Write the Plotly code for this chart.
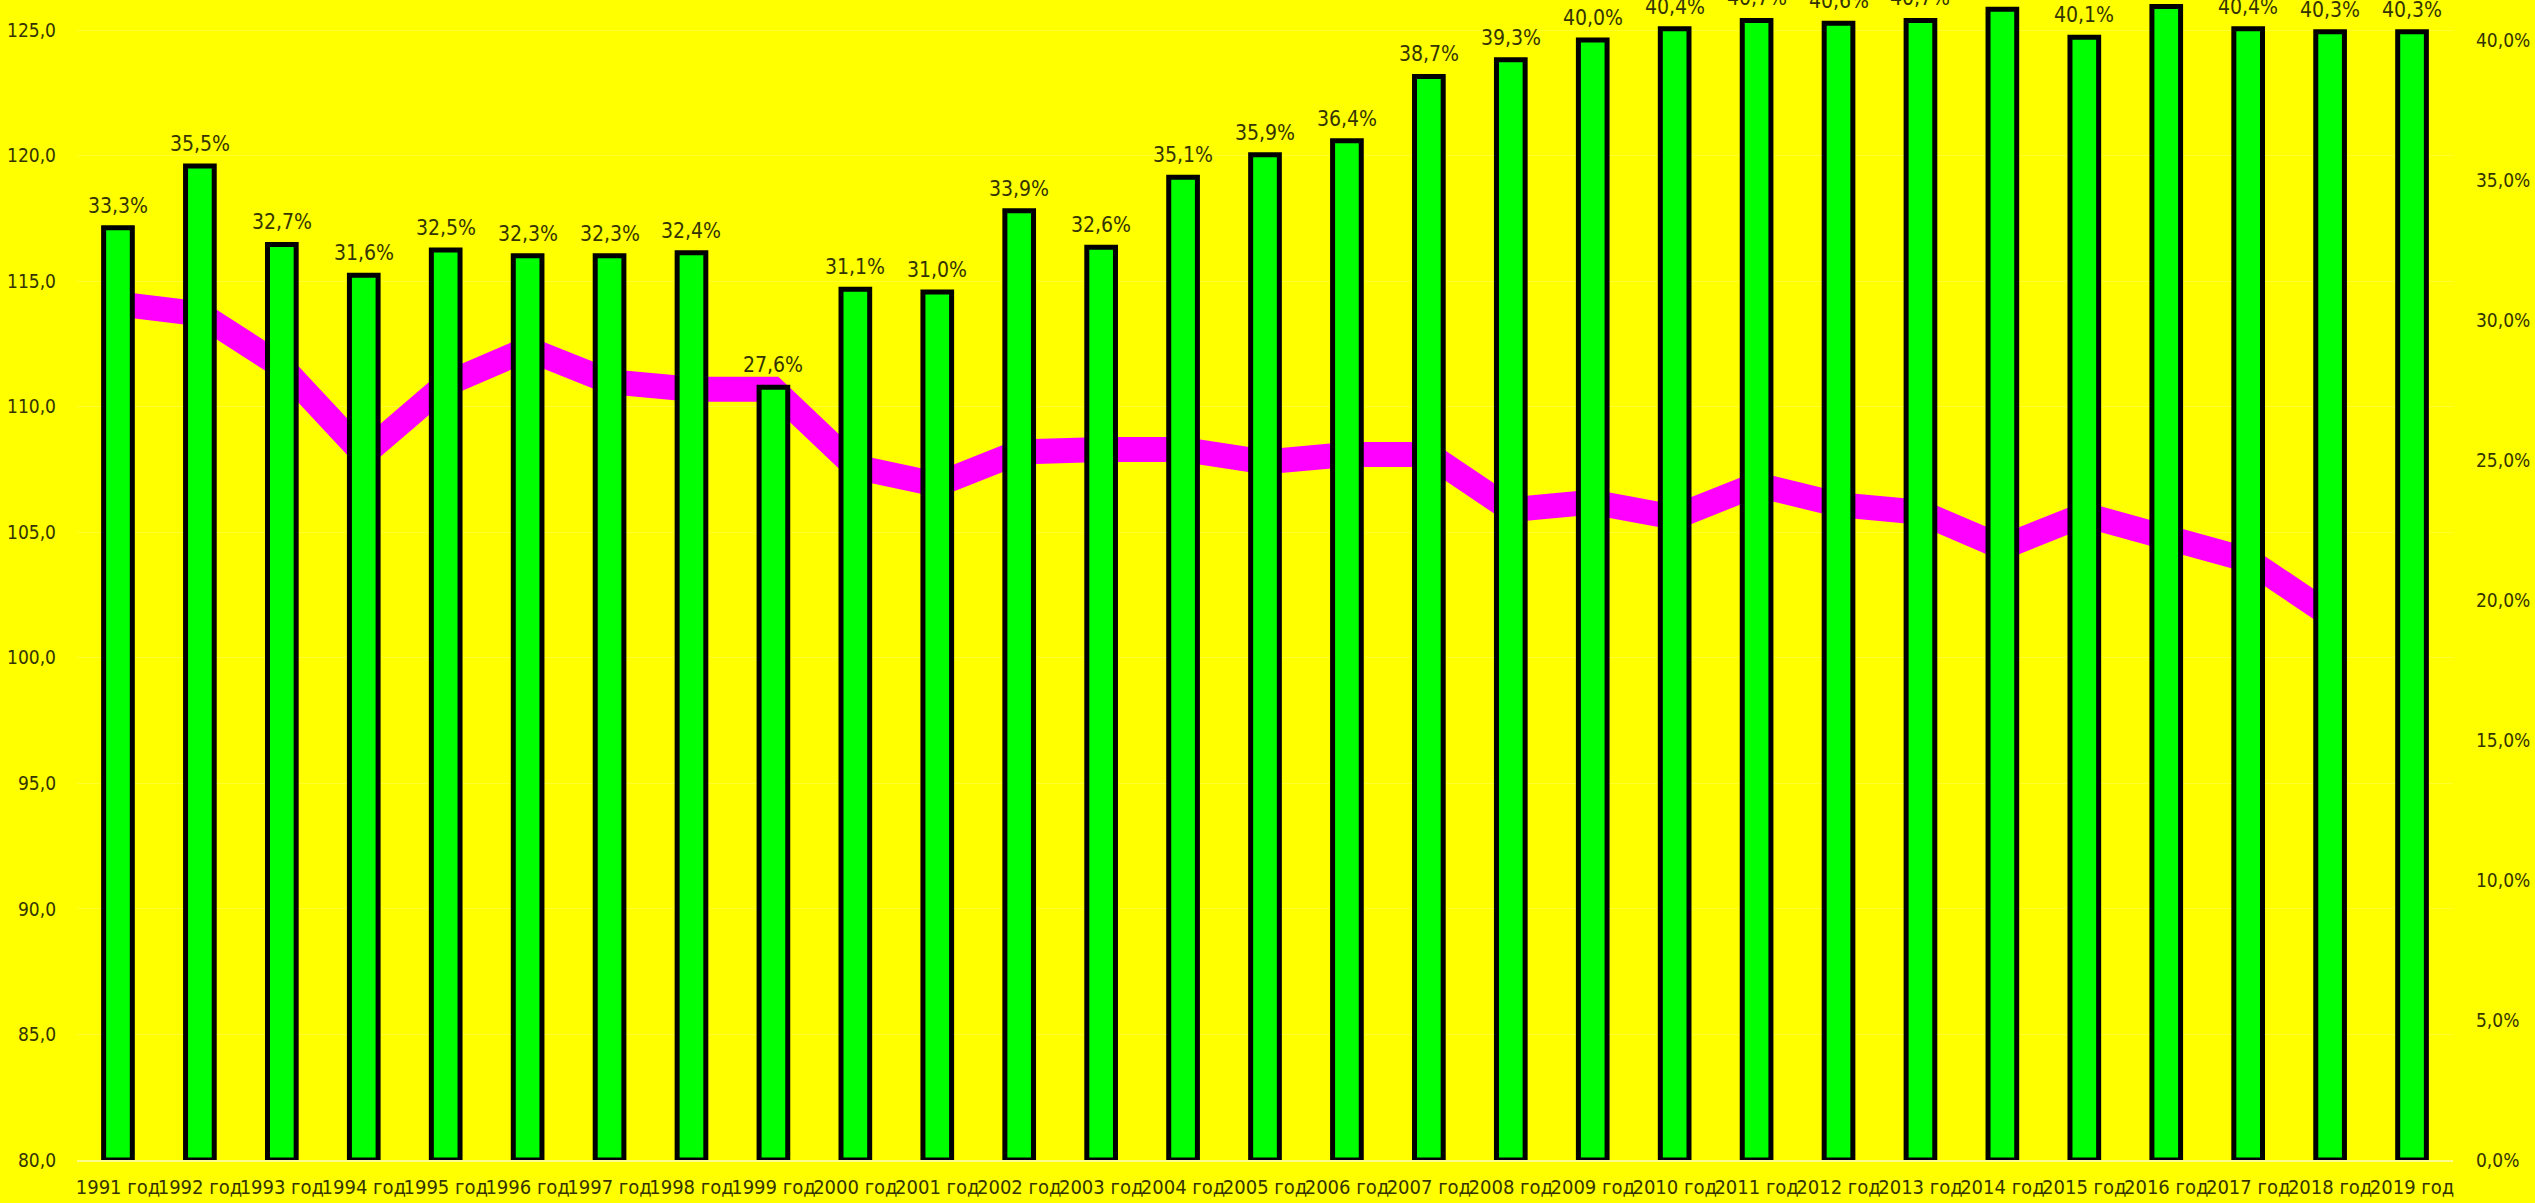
import plotly.graph_objects as go

years = [f"{y} год" for y in range(1991, 2020)]

# Bar series (right axis, %), labels shown above bars
share_pct = [33.3, 35.5, 32.7, 31.6, 32.5, 32.3, 32.3, 32.4, 27.6, 31.1,
             31.0, 33.9, 32.6, 35.1, 35.9, 36.4, 38.7, 39.3, 40.0, 40.4,
             40.7, 40.6, 40.7, 41.1, 40.1, 41.2, 40.4, 40.3, 40.3]

# Line series (left axis)
index_vals = [114.1, 113.7, 111.6, 108.1, 110.9, 112.3, 111.0, 110.7, 110.7, 107.6,
              106.9, 108.2, 108.3, 108.3, 107.8, 108.1, 108.1, 105.9, 106.2, 105.6,
              106.9, 106.1, 105.8, 104.4, 105.7, 104.9, 103.9, 101.7, None]

left_ticks = [80, 85, 90, 95, 100, 105, 110, 115, 120, 125]
right_ticks = [0, 5, 10, 15, 20, 25, 30, 35, 40]

FONT = "DejaVu Sans Condensed, Liberation Sans Narrow, sans-serif"
TXT = "#343400"


def fmt(v, suffix=""):
    return f"{v:.1f}".replace(".", ",") + suffix


fig = go.Figure()

fig.add_trace(go.Bar(
    x=years, y=share_pct, yaxis="y2",
    marker=dict(color="#00ff00", line=dict(color="#000000", width=5)),
    showlegend=False, hoverinfo="x+y",
))

fig.add_trace(go.Scatter(
    x=years, y=index_vals, yaxis="y",
    mode="lines", line=dict(color="#ff00ff", width=25),
    connectgaps=False, showlegend=False,
))

annotations = []
for yr, v in zip(years, share_pct):
    annotations.append(dict(
        x=yr, y=v, xref="x", yref="y2",
        text=fmt(v, "%"),
        showarrow=False, yanchor="middle", yshift=22,
        font=dict(family=FONT, size=21, color=TXT),
    ))

fig.update_layout(
    width=2535, height=1203,
    margin=dict(l=77, r=82, t=0, b=43),
    paper_bgcolor="#ffff00", plot_bgcolor="#ffff00",
    bargap=0.65,
    annotations=annotations,
    font=dict(family=FONT, size=19, color=TXT),
    xaxis=dict(
        tickangle=0, ticks="", showgrid=False,
        showline=True, linecolor="rgba(255,255,255,0.55)", linewidth=2,
        tickfont=dict(family=FONT, size=20, color=TXT),
        ticklabelstandoff=8,
    ),
    yaxis=dict(
        range=[80, 126.2], tickvals=left_ticks,
        ticktext=[fmt(t) for t in left_ticks],
        showgrid=True, gridcolor="rgba(255,255,255,0.18)", zeroline=False,
        ticks="", ticklabelstandoff=20,
        tickfont=dict(family=FONT, size=19, color=TXT),
    ),
    yaxis2=dict(
        range=[0, 41.43], overlaying="y", side="right",
        tickvals=right_ticks, ticktext=[fmt(t, "%") for t in right_ticks],
        showgrid=False, zeroline=False, ticks="", ticklabelstandoff=22,
        tickfont=dict(family=FONT, size=19, color=TXT),
    ),
)

fig.write_html("out.html")
